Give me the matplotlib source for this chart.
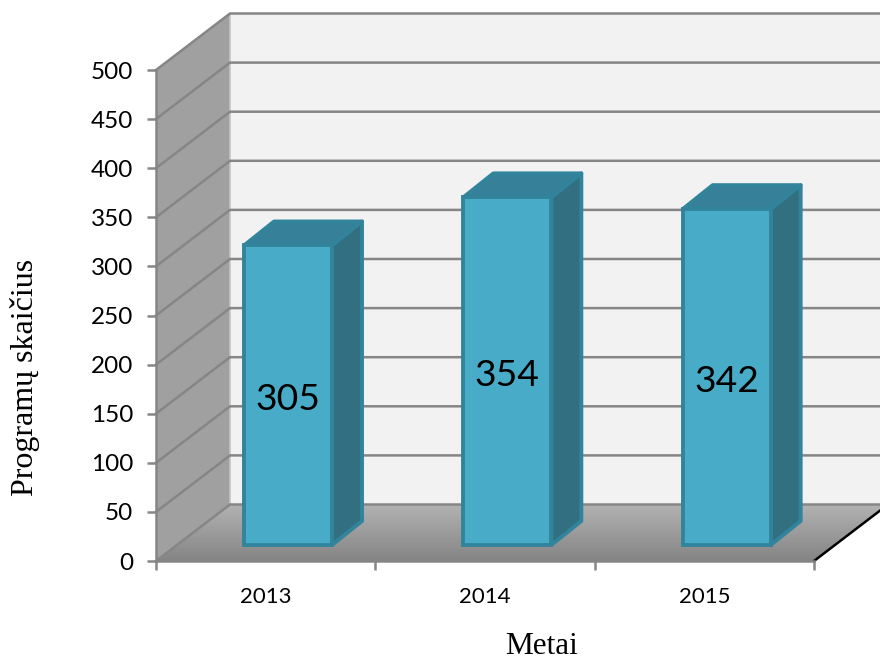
import numpy as np
import matplotlib
matplotlib.use("Agg")
import matplotlib.pyplot as plt
from matplotlib.patches import Polygon

years = ["2013", "2014", "2015"]
programs = [305, 354, 342]
y_ticks = [0, 50, 100, 150, 200, 250, 300, 350, 400, 450, 500]

GRID = "#868686"
FACE = "#48acc8"
EDGE = "#31849b"
TOP = "#37809a"
SIDE = "#326f80"

plt.rcParams["font.family"] = "Lato"

fig = plt.figure(figsize=(8.8, 6.59), dpi=100)
ax = fig.add_axes([156 / 880, 1 - 561 / 659, 658 / 880, 491 / 659])
ax.set_xlim(0, 3)
ax.set_ylim(0, 500)
ax.patch.set_alpha(0)

# depth of the fake 3d box, in data units
wall_dx = 74 / 219.33
wall_dy = 56.5 / 0.982
bar_dx = 30 / 219.33
bar_dy = 24 / 0.982
bar_w = 88 / 219.33
bar_off = 88 / 219.33
lift = 16.3

# back wall and side wall
ax.add_patch(Polygon([(wall_dx, wall_dy), (3 + wall_dx, wall_dy), (3 + wall_dx, 500 + wall_dy), (wall_dx, 500 + wall_dy)],
                     fc="#f2f2f2", ec="none", clip_on=False, zorder=1))
ax.add_patch(Polygon([(0, 0), (wall_dx, wall_dy), (wall_dx, 500 + wall_dy), (0, 500)],
                     fc="#a0a0a0", ec="none", clip_on=False, zorder=1))
ax.plot([wall_dx, wall_dx], [wall_dy, 500 + wall_dy], color="#c4c4c4", lw=1.2, clip_on=False, zorder=1.5)

# floor with gradient
floor = Polygon([(0, 0), (3, 0), (3 + wall_dx, wall_dy), (wall_dx, wall_dy)], fc="none", ec="none",
                transform=ax.transData)
ax.add_patch(floor)
floor.set_clip_on(False)
grad = np.linspace(0, 1, 64).reshape(-1, 1)
im = ax.imshow(grad, extent=(0, 3 + wall_dx, 0, wall_dy), origin="lower", aspect="auto",
               cmap=matplotlib.colors.LinearSegmentedColormap.from_list("floor", ["#858585", "#b2b2b2"]),
               zorder=1.2)
im.set_clip_box(fig.bbox)
im.set_clip_path(floor)
ax.set_xlim(0, 3)
ax.set_ylim(0, 500)

# grid on both walls
for v in y_ticks:
    ax.plot([0, wall_dx, 3 + wall_dx], [v, v + wall_dy, v + wall_dy], color=GRID, lw=1.8,
            clip_on=False, zorder=2, solid_joinstyle="miter")

# right edge of the floor
ax.plot([3, 3 + wall_dx], [0, wall_dy], color="black", lw=1.8, clip_on=False, zorder=2)

# bars
x_pos = [i + bar_off + bar_w / 2 for i in range(len(programs))]
ax.bar(x_pos, programs, width=bar_w, bottom=lift, color=FACE, edgecolor=EDGE, linewidth=2.8, zorder=4)
for x, v in zip(x_pos, programs):
    l, r = x - bar_w / 2, x + bar_w / 2
    t = v + lift
    ax.add_patch(Polygon([(l, t), (r, t), (r + bar_dx, t + bar_dy), (l + bar_dx, t + bar_dy)],
                         fc=TOP, ec=EDGE, lw=2.8, joinstyle="round", clip_on=False, zorder=3))
    ax.add_patch(Polygon([(r, lift), (r + bar_dx, lift + bar_dy), (r + bar_dx, t + bar_dy), (r, t)],
                         fc=SIDE, ec=EDGE, lw=2.8, joinstyle="round", clip_on=False, zorder=3))
    ax.annotate(str(v), (x, lift + v / 2), xytext=(0, -3), textcoords="offset points",
                ha="center", va="center", fontsize=26.8, color="black", zorder=5)

# axes
for s in ["top", "right"]:
    ax.spines[s].set_visible(False)
for s in ["left", "bottom"]:
    ax.spines[s].set_color(GRID)
    ax.spines[s].set_linewidth(1.8)
    ax.spines[s].set_zorder(2.5)
ax.set_yticks(y_ticks)
ax.tick_params(axis="y", length=6.5, width=1.8, color=GRID, labelsize=17.5, pad=10)
ax.set_xticks([0, 1, 2, 3])
ax.set_xticklabels([])
ax.tick_params(axis="x", which="major", length=6.5, width=1.8, color=GRID)
ax.set_xticks([0.5, 1.5, 2.5], minor=True)
ax.set_xticklabels(years, minor=True)
ax.tick_params(axis="x", which="minor", length=0, labelsize=16, pad=19)

fig.text(541 / 880, 1 - 646 / 659, "Metai", family="Liberation Serif", fontsize=22.5, ha="center", va="center")
fig.text(25 / 880, 1 - 377.5 / 659, "Programų skaičius", family="Liberation Serif", fontsize=23,
         rotation=90, ha="center", va="center")

fig.savefig("out.png", dpi=100)
